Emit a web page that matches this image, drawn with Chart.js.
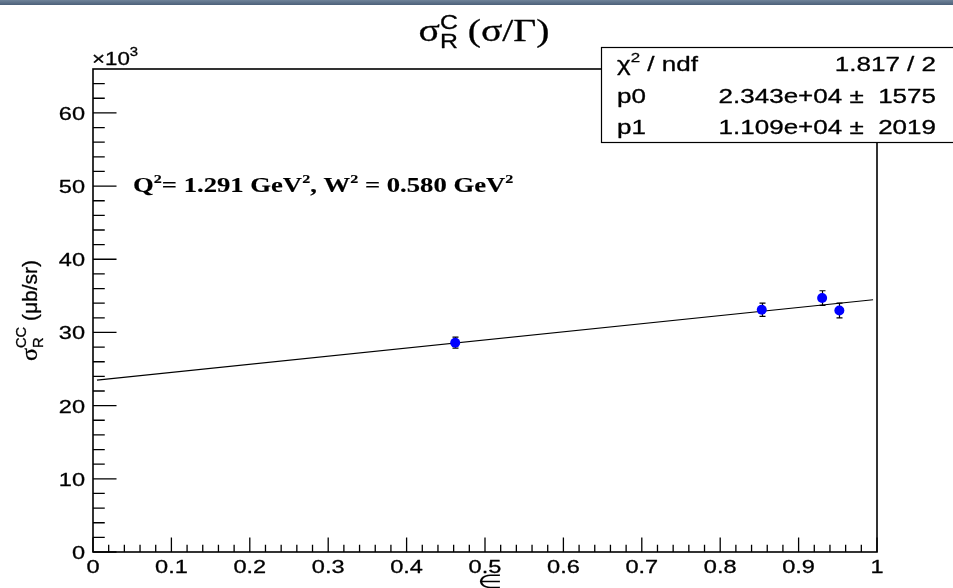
<!DOCTYPE html>
<html>
<head>
<meta charset="utf-8">
<script src="https://cdn.jsdelivr.net/npm/chart.js@4/dist/chart.umd.min.js"></script>
<style>
  html, body { margin: 0; padding: 0; background: #fff; }
  #wrap { position: absolute; left: 0; top: 0; width: 953px; height: 588px; }
  #topbar { position: absolute; left: 0; top: 0; width: 953px; height: 5px;
            background: linear-gradient(#6f8399, #4c6079); }
</style>
</head>
<body>
<div id="wrap"><canvas id="c" width="953" height="588"></canvas></div>
<div id="topbar"></div>
<script>
// Measured reduced cross sections vs. epsilon
const epsilon  = [0.462, 0.853, 0.930, 0.952];
const sigmaRC  = [28600, 33100, 34700, 33000];
const sigmaErr = [750, 900, 1000, 1000];

// Linear fit p0 + p1*epsilon
const fitP0 = 23430;
const fitP1 = 11090;
const fitRange = [0.005, 0.995];

// Axes
const xTicks = [0, 0.1, 0.2, 0.3, 0.4, 0.5, 0.6, 0.7, 0.8, 0.9, 1];
const xTickLabels = ['0', '0.1', '0.2', '0.3', '0.4', '0.5', '0.6', '0.7', '0.8', '0.9', '1'];
const yTicks = [0, 10000, 20000, 30000, 40000, 50000, 60000];
const yTickLabels = ['0', '10', '20', '30', '40', '50', '60'];
const xRange = [0, 1];
const yRange = [0, 66000];

// Fit statistics
const statsRows = [
  ['χ2 / ndf', '1.817 / 2'],
  ['p0', '2.343e+04 ±  1575'],
  ['p1', '1.109e+04 ±  2019']
];

const SANS = '"Liberation Sans", Arial, sans-serif';
const SERIF = '"Liberation Serif", "Times New Roman", serif';
const SX = 1.24; // horizontal glyph widening

// Draw a run of text pieces; a piece with keep:true does not advance the pen.
function drawRuns(ctx, parts, x, y, align, sx, heavy) {
  let w = 0, pend = 0;
  parts.forEach(p => {
    ctx.font = p.f;
    p.w = ctx.measureText(p.t).width;
    if (p.keep) { pend = Math.max(pend, p.w); }
    else { w += Math.max(p.w, pend); pend = 0; }
  });
  w += pend;
  const x0 = align === 'right' ? x - w * sx : align === 'center' ? x - w * sx / 2 : x;
  ctx.save();
  ctx.translate(x0, y);
  ctx.scale(sx, 1);
  ctx.textAlign = 'left';
  ctx.textBaseline = 'alphabetic';
  ctx.lineWidth = heavy === undefined ? 0.3 : heavy;
  ctx.lineJoin = 'round';
  let cx = 0; pend = 0;
  parts.forEach(p => {
    ctx.font = p.f;
    ctx.fillStyle = p.c || '#000';
    ctx.strokeStyle = p.c || '#000';
    ctx.fillText(p.t, cx, p.dy || 0);
    if (ctx.lineWidth > 0) ctx.strokeText(p.t, cx, p.dy || 0);
    if (p.keep) { pend = Math.max(pend, p.w); }
    else { cx += Math.max(p.w, pend); pend = 0; }
  });
  ctx.restore();
}

const rootStyle = {
  id: 'rootStyle',
  beforeDatasetsDraw(chart) {
    const ctx = chart.ctx;
    const xs = chart.scales.x, ys = chart.scales.y;
    ctx.save();
    ctx.strokeStyle = '#000';
    ctx.lineWidth = 1.2;
    epsilon.forEach((e, i) => {
      const px = Math.round(xs.getPixelForValue(e)) + 0.5;
      const yl = ys.getPixelForValue(sigmaRC[i] - sigmaErr[i]);
      const yh = ys.getPixelForValue(sigmaRC[i] + sigmaErr[i]);
      ctx.beginPath();
      ctx.moveTo(px, yl); ctx.lineTo(px, yh);
      ctx.moveTo(px - 3, yl); ctx.lineTo(px + 3, yl);
      ctx.moveTo(px - 3, yh); ctx.lineTo(px + 3, yh);
      ctx.stroke();
    });
    ctx.restore();
  },
  afterDraw(chart) {
    const ctx = chart.ctx;
    const a = chart.chartArea;
    const xs = chart.scales.x, ys = chart.scales.y;
    const H = a.bottom - a.top, W = a.right - a.left;
    ctx.save();

    // frame
    ctx.strokeStyle = '#000';
    ctx.lineWidth = 1.6;
    ctx.strokeRect(a.left, a.top, W, H);

    // x ticks (major + 4 minor per interval), drawn inward
    ctx.lineWidth = 1.3;
    ctx.beginPath();
    const xMaj = 0.03 * H, yMaj = 0.03 * W;
    for (let k = 0; k < xTicks.length; k++) {
      const px = xs.getPixelForValue(xTicks[k]);
      ctx.moveTo(px, a.bottom); ctx.lineTo(px, a.bottom - xMaj);
      if (k < xTicks.length - 1) {
        const step = (xTicks[k + 1] - xTicks[k]) / 5;
        for (let m = 1; m < 5; m++) {
          const mx = xs.getPixelForValue(xTicks[k] + m * step);
          ctx.moveTo(mx, a.bottom); ctx.lineTo(mx, a.bottom - xMaj / 2);
        }
      }
    }
    // y ticks
    const major = yTicks[1] - yTicks[0];
    const yStep = major / 5;
    for (let k = 0; k < yTicks.length; k++) {
      const py = ys.getPixelForValue(yTicks[k]);
      ctx.moveTo(a.left, py); ctx.lineTo(a.left + yMaj, py);
    }
    for (let v = yStep; v < yRange[1]; v += yStep) {
      if (Math.abs(v / major - Math.round(v / major)) < 1e-6) continue;
      const py = ys.getPixelForValue(v);
      ctx.moveTo(a.left, py); ctx.lineTo(a.left + yMaj / 2, py);
    }
    ctx.stroke();

    // tick labels
    const tickFont = '19px ' + SANS;
    xTicks.forEach((v, k) => {
      drawRuns(ctx, [{t: xTickLabels[k], f: tickFont}], xs.getPixelForValue(v), a.bottom + 21, 'center', SX);
    });
    yTicks.forEach((v, k) => {
      drawRuns(ctx, [{t: yTickLabels[k], f: tickFont}], a.left - 8, ys.getPixelForValue(v) + 7, 'right', SX);
    });
    // exponent marker
    drawRuns(ctx, [
      {t: '×10', f: '18px ' + SANS},
      {t: '3', f: '12px ' + SANS, dy: -9}
    ], a.left - 1, a.top - 4, 'left', SX);

    // x title
    drawRuns(ctx, [{t: '∈', f: '19px "DejaVu Sans", sans-serif'}], (a.left + a.right) / 2 + 5, 588, 'center', 1.5, 0.1);

    // y title (rotated)
    ctx.save();
    ctx.translate(37, (a.top + a.bottom) / 2);
    ctx.rotate(-Math.PI / 2);
    drawRuns(ctx, [
      {t: 'σ', f: '23px ' + SERIF},
      {t: 'R', f: '14px ' + SANS, dy: 6, keep: true},
      {t: 'CC', f: '14px ' + SANS, dy: -11},
      {t: ' (μb/sr)', f: '20px ' + SANS}
    ], 0, 0, 'center', 1.05);
    ctx.restore();

    // title
    drawRuns(ctx, [
      {t: 'σ', f: '32px ' + SERIF},
      {t: 'R', f: '20px ' + SANS, dy: 7, keep: true},
      {t: 'C', f: '20px ' + SANS, dy: -12},
      {t: ' (σ/Γ)', f: '32px ' + SERIF}
    ], 484, 41, 'center', SX, 0.3);

    // kinematics annotation
    drawRuns(ctx, [
      {t: 'Q', f: 'bold 21.5px ' + SERIF},
      {t: '2', f: 'bold 13px ' + SERIF, dy: -9},
      {t: '= 1.291 GeV', f: 'bold 21.5px ' + SERIF},
      {t: '2', f: 'bold 13px ' + SERIF, dy: -9},
      {t: ', W', f: 'bold 21.5px ' + SERIF},
      {t: '2', f: 'bold 13px ' + SERIF, dy: -9},
      {t: ' = 0.580 GeV', f: 'bold 21.5px ' + SERIF},
      {t: '2', f: 'bold 13px ' + SERIF, dy: -9}
    ], 133, 192, 'left', SX, 0.15);

    // stats box
    ctx.fillStyle = '#fff';
    ctx.fillRect(601.5, 47.5, 360, 95);
    ctx.strokeStyle = '#000';
    ctx.lineWidth = 1.2;
    ctx.strokeRect(601.5, 47.5, 360, 95);
    const rowY = [71, 103, 134];
    const sFont = '20px ' + SANS;
    statsRows.forEach((r, i) => {
      const lab = r[0].startsWith('χ2')
        ? [{t: 'χ', f: sFont}, {t: '2', f: '13px ' + SANS, dy: -9}, {t: ' / ndf', f: sFont}]
        : [{t: r[0], f: sFont}];
      drawRuns(ctx, lab, 617, rowY[i], 'left', 1.3);
      drawRuns(ctx, [{t: r[1], f: sFont}], 936, rowY[i], 'right', 1.3);
    });

    ctx.restore();
  }
};

new Chart(document.getElementById('c'), {
  data: {
    datasets: [
      {
        type: 'scatter',
        data: epsilon.map((e, i) => ({x: e, y: sigmaRC[i]})),
        backgroundColor: '#0000ff',
        borderColor: '#0000ff',
        pointRadius: 5,
        borderWidth: 0,
        order: 0
      },
      {
        type: 'line',
        data: fitRange.map(e => ({x: e, y: fitP0 + fitP1 * e})),
        borderColor: '#000',
        borderWidth: 1.1,
        pointRadius: 0,
        order: 1
      }
    ]
  },
  options: {
    responsive: false,
    animation: false,
    events: [],
    layout: { padding: { top: 69, right: 76, left: 0, bottom: 0 } },
    plugins: { legend: { display: false }, tooltip: { enabled: false }, title: { display: false } },
    scales: {
      x: {
        type: 'linear', min: xRange[0], max: xRange[1],
        afterBuildTicks: s => { s.ticks = xTicks.map(v => ({value: v})); },
        ticks: { display: false }, grid: { display: false }, border: { display: false },
        afterFit: s => { s.height = 36; }
      },
      y: {
        type: 'linear', min: yRange[0], max: yRange[1],
        afterBuildTicks: s => { s.ticks = yTicks.map(v => ({value: v})); },
        ticks: { display: false }, grid: { display: false }, border: { display: false },
        afterFit: s => { s.width = 93; }
      }
    }
  },
  plugins: [rootStyle]
});
</script>
</body>
</html>
